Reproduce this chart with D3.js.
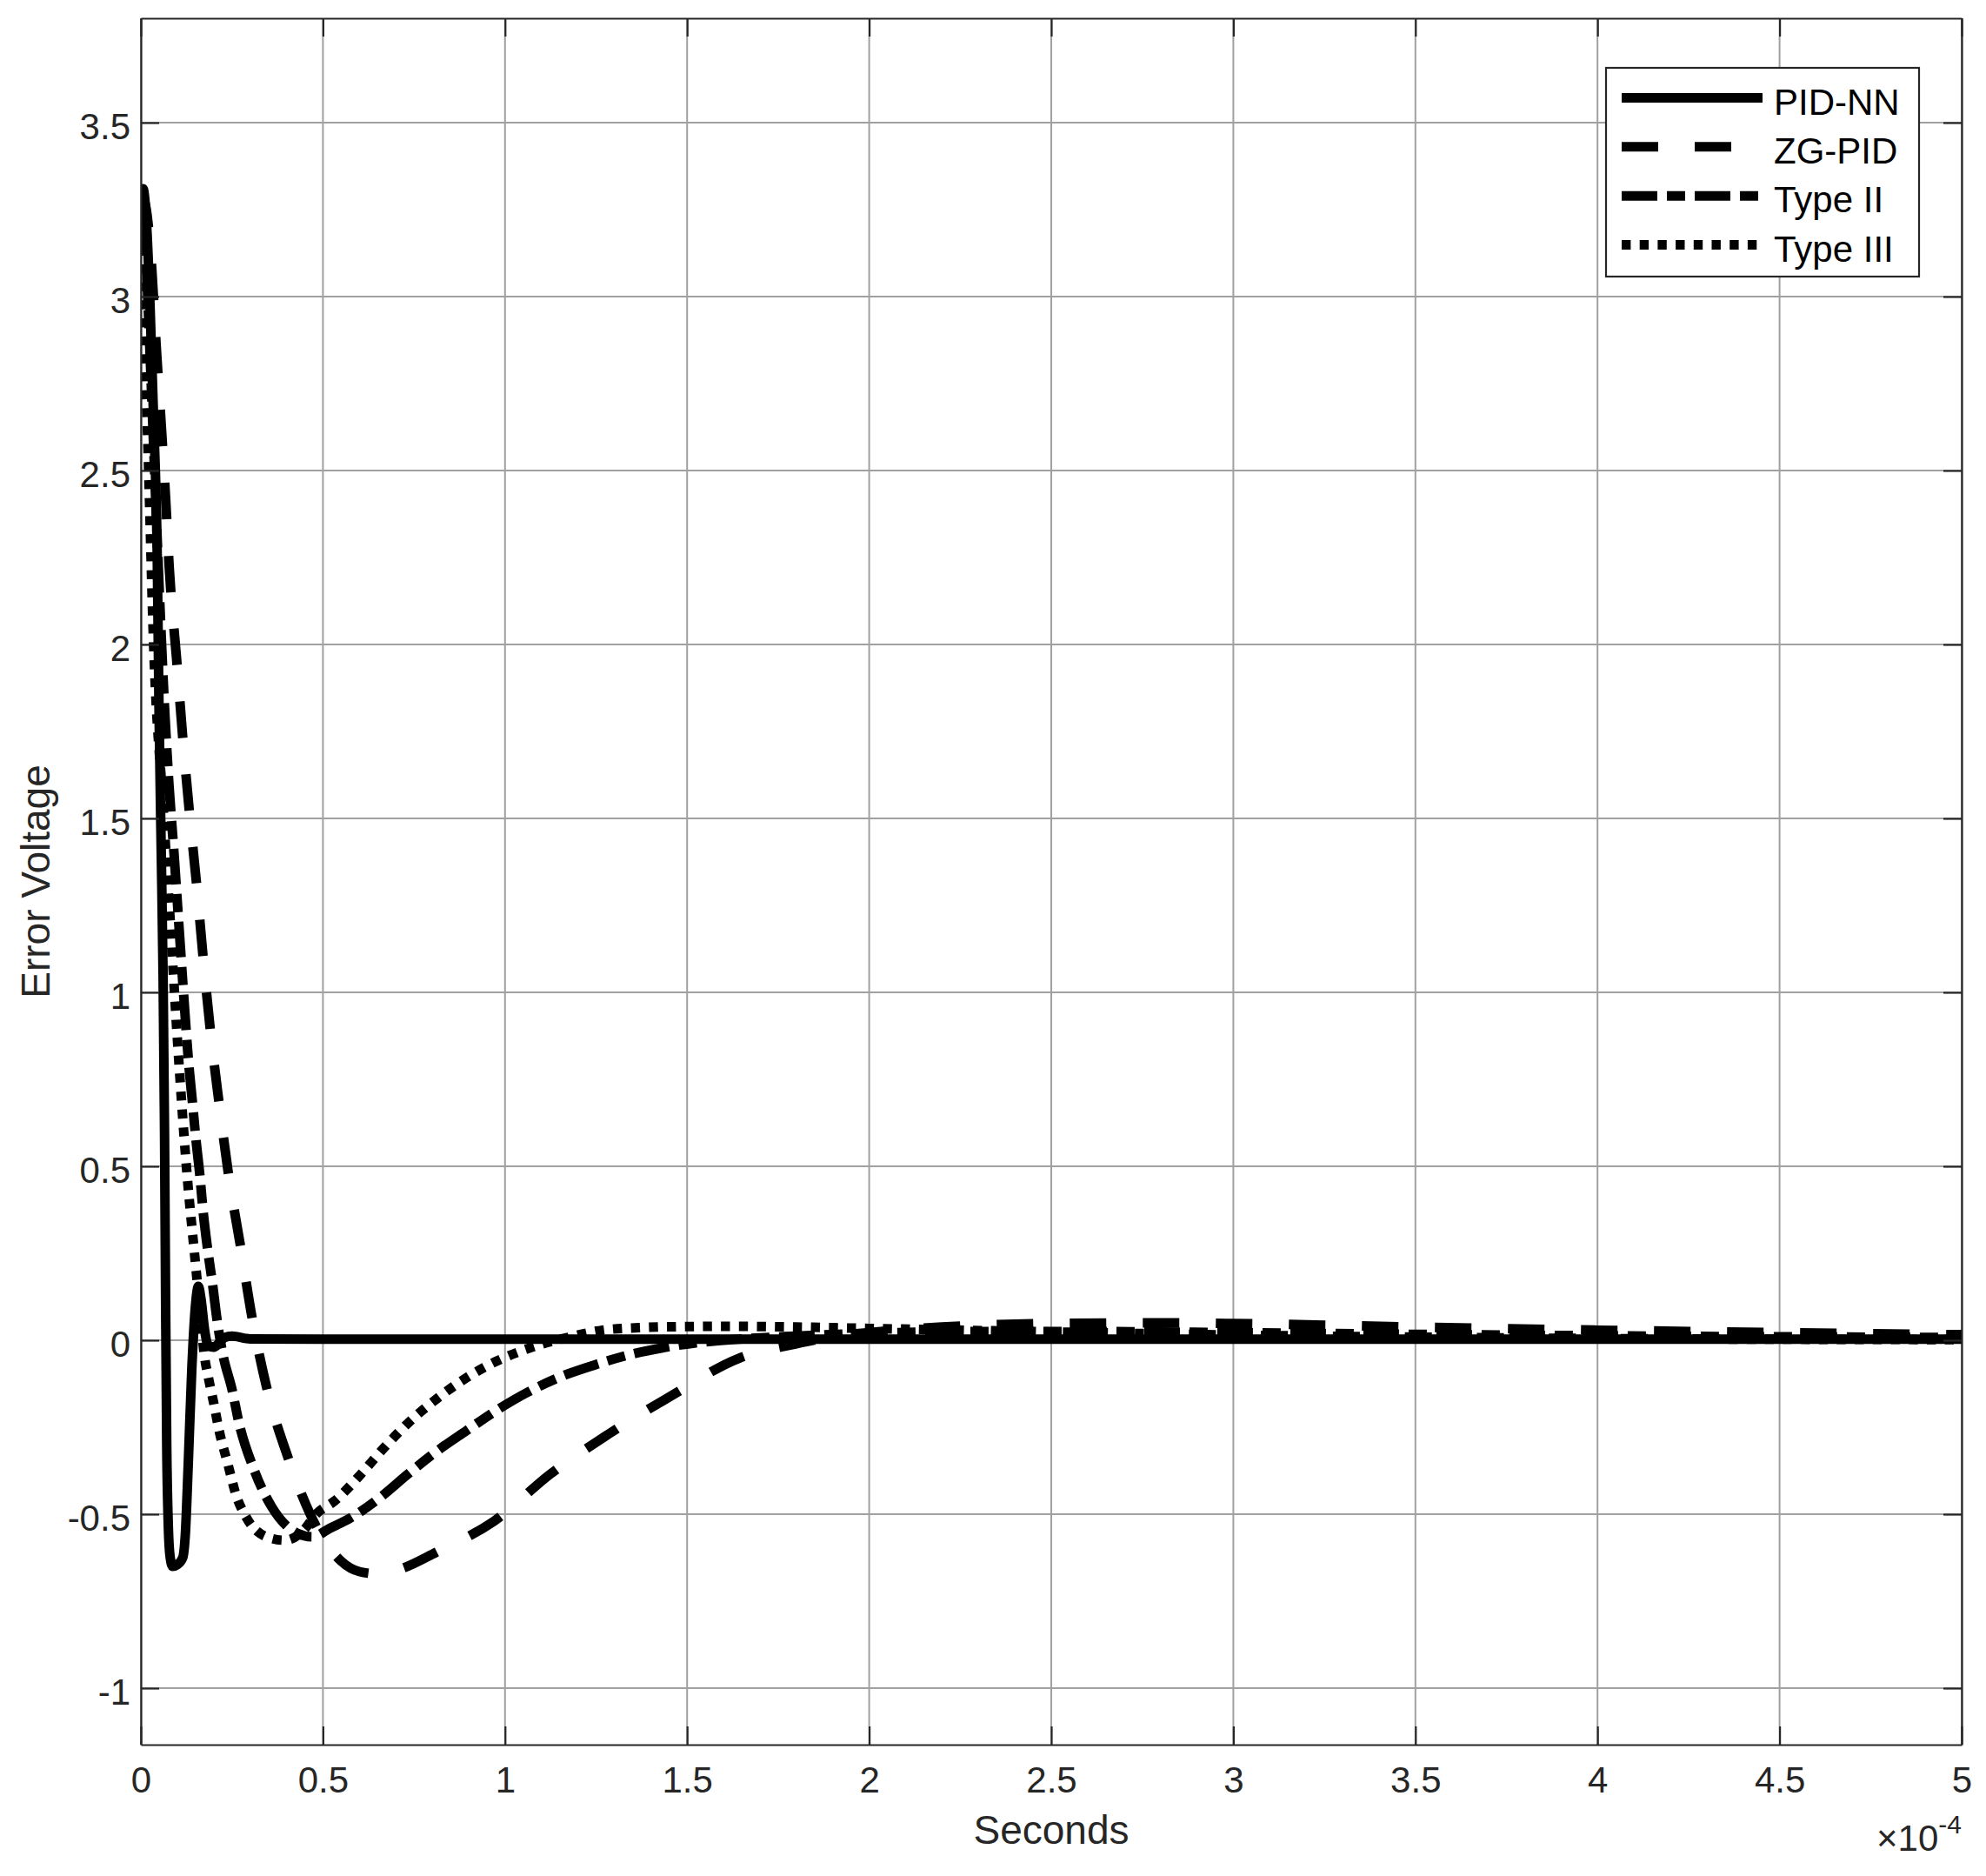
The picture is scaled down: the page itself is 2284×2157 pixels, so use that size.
<!DOCTYPE html>
<html><head><meta charset="utf-8">
<script src="https://cdn.jsdelivr.net/npm/d3@7"></script>
<style>
body{margin:0;background:#fff;}
svg{display:block;}
text{font-family:"Liberation Sans", Arial, Helvetica, sans-serif;}
</style>
</head><body>
<svg id="chart" width="2284" height="2157"></svg>
<script>
// ---- data (time in units of 1e-4 s) ----
const xTicks = [0, 0.5, 1, 1.5, 2, 2.5, 3, 3.5, 4, 4.5, 5];
const yTicks = [-1, -0.5, 0, 0.5, 1, 1.5, 2, 2.5, 3, 3.5];
const seriesNames = ["PID-NN", "ZG-PID", "Type II", "Type III"];
const xLabel = "Seconds";
const yLabel = "Error Voltage";

const pidnnT = [0, 0.006, 0.015, 0.025, 0.035, 0.045, 0.05, 0.056, 0.061, 0.065, 0.068, 0.071, 0.075, 0.08, 0.087, 0.1, 0.115, 0.122, 0.13, 0.14, 0.15, 0.158, 0.165, 0.175, 0.185, 0.2, 0.215, 0.23, 0.25, 0.3, 0.5, 1, 2, 3, 4, 5];
const pidnnV = [3.28, 3.31, 3.22, 2.98, 2.65, 2.25, 1.8, 1.4, 1.05, 0.6, 0.1, -0.3, -0.52, -0.62, -0.65, -0.645, -0.625, -0.56, -0.36, -0.08, 0.1, 0.155, 0.12, 0.03, -0.015, -0.02, -0.008, 0.008, 0.012, 0.004, 0.003, 0.003, 0.003, 0.003, 0.003, 0.003];

const zgpidT = [0, 0.015, 0.03, 0.042, 0.056, 0.068, 0.078, 0.098, 0.116, 0.134, 0.154, 0.171, 0.193, 0.215, 0.241, 0.273, 0.305, 0.346, 0.405, 0.465, 0.5, 0.55, 0.6, 0.657, 0.72, 0.81, 0.97, 1.124, 1.284, 1.456, 1.642, 1.8, 1.9, 2.0, 2.2, 2.5, 2.8, 3.0, 3.5, 4.0, 4.5, 5.0];
const zgpidV = [3.3, 3.25, 3.08, 2.86, 2.63, 2.42, 2.22, 1.96, 1.72, 1.51, 1.3, 1.1, 0.87, 0.68, 0.474, 0.274, 0.067, -0.138, -0.34, -0.5, -0.57, -0.635, -0.665, -0.672, -0.655, -0.61, -0.52, -0.385, -0.27, -0.16, -0.052, -0.01, 0.01, 0.022, 0.038, 0.048, 0.05, 0.048, 0.038, 0.029, 0.022, 0.016];

const type2T = [0, 0.01, 0.02, 0.035, 0.05, 0.065, 0.077, 0.091, 0.104, 0.117, 0.131, 0.142, 0.151, 0.162, 0.171, 0.183, 0.197, 0.209, 0.225, 0.25, 0.27, 0.31, 0.36, 0.43, 0.47, 0.52, 0.577, 0.657, 0.733, 0.814, 0.894, 0.976, 1.061, 1.15, 1.246, 1.344, 1.437, 1.52, 1.6, 1.8, 2.0, 2.3, 2.6, 3.0, 3.5, 4.0, 4.5, 5.0];
const type2V = [3.3, 3.2, 2.97, 2.57, 2.17, 1.82, 1.6, 1.4, 1.2, 1.0, 0.8, 0.68, 0.58, 0.474, 0.37, 0.264, 0.16, 0.06, -0.04, -0.14, -0.24, -0.37, -0.48, -0.555, -0.565, -0.54, -0.51, -0.452, -0.385, -0.318, -0.26, -0.202, -0.15, -0.106, -0.071, -0.041, -0.021, -0.008, 0.0, 0.012, 0.02, 0.025, 0.025, 0.022, 0.017, 0.013, 0.01, 0.008];

const type3T = [0, 0.005, 0.02, 0.035, 0.06, 0.078, 0.1, 0.125, 0.15, 0.163, 0.174, 0.186, 0.2, 0.215, 0.24, 0.26, 0.29, 0.345, 0.395, 0.448, 0.481, 0.532, 0.6, 0.667, 0.739, 0.814, 0.894, 0.981, 1.077, 1.172, 1.268, 1.367, 1.467, 1.6, 1.8, 2.0, 2.5, 3.0, 3.5, 4.0, 4.5, 5.0];
const type3V = [3.3, 3.05, 2.55, 2.0, 1.55, 1.25, 0.87, 0.5, 0.22, 0.08, -0.04, -0.11, -0.18, -0.26, -0.36, -0.44, -0.51, -0.565, -0.575, -0.545, -0.5, -0.462, -0.39, -0.31, -0.233, -0.167, -0.108, -0.058, -0.019, 0.008, 0.029, 0.036, 0.039, 0.04, 0.038, 0.034, 0.024, 0.015, 0.009, 0.005, 0.003, 0.002];

const dashes = [null, "42,42", "41,11,21,11", "10.4,10.3"];

// ---- layout ----
const L = 162, R = 2256, T = 21, B = 2006;
const svg = d3.select("#chart");
const x = d3.scaleLinear().domain([0, 5]).range([L, R]);
const y = d3.scaleLinear().domain([-1.1625, 3.8]).range([B, T]);
const axisColor = "#262626";

svg.append("defs").append("clipPath").attr("id", "clip")
  .append("rect").attr("x", L).attr("y", T).attr("width", R - L).attr("height", B - T);

// grid
const grid = svg.append("g");
grid.selectAll("line.gx").data(xTicks).join("line")
  .attr("x1", d => x(d)).attr("x2", d => x(d)).attr("y1", T).attr("y2", B)
  .attr("stroke", "#a0a0a0").attr("stroke-width", 2);
grid.selectAll("line.gy").data(yTicks).join("line").attr("class","gy")
  .attr("x1", L).attr("x2", R).attr("y1", d => y(d)).attr("y2", d => y(d))
  .attr("stroke", "#a0a0a0").attr("stroke-width", 2);

// series
const series = [
  {name: seriesNames[0], t: pidnnT, v: pidnnV, dash: dashes[0]},
  {name: seriesNames[1], t: zgpidT, v: zgpidV, dash: dashes[1]},
  {name: seriesNames[2], t: type2T, v: type2V, dash: dashes[2]},
  {name: seriesNames[3], t: type3T, v: type3V, dash: dashes[3]}
];
const line = d3.line().x(d => x(d[0])).y(d => y(d[1])).curve(d3.curveMonotoneX);
const lg = svg.append("g").attr("clip-path", "url(#clip)");
series.forEach(s => {
  const pts = s.t.map((t, i) => [t, s.v[i]]);
  lg.append("path").datum(pts).attr("d", line)
    .attr("fill", "none").attr("stroke", "#000").attr("stroke-width", 11)
    .attr("stroke-linejoin", "round").attr("stroke-linecap", "butt")
    .attr("stroke-dasharray", s.dash);
});

// axes
const fmt = d => String(d);
const styleAxis = g => {
  g.selectAll(".domain").attr("stroke", axisColor).attr("stroke-width", 2.2);
  g.selectAll(".tick line").attr("stroke", axisColor).attr("stroke-width", 2.2);
  g.selectAll("text").attr("fill", axisColor).attr("font-size", 42)
    .attr("font-family", "'Liberation Sans', Arial, sans-serif");
};
svg.append("g").attr("transform", `translate(0,${B})`)
  .call(d3.axisBottom(x).tickValues(xTicks).tickFormat(fmt).tickSize(-21).tickSizeOuter(0).tickPadding(25))
  .call(styleAxis);
svg.append("g").attr("transform", `translate(0,${T})`)
  .call(d3.axisTop(x).tickValues(xTicks).tickFormat("").tickSize(-21).tickSizeOuter(0))
  .call(styleAxis);
const yAx = svg.append("g").attr("transform", `translate(${L},0)`)
  .call(d3.axisLeft(y).tickValues(yTicks).tickFormat(fmt).tickSize(-21).tickSizeOuter(0).tickPadding(12))
  .call(styleAxis);
yAx.selectAll("text").attr("dy", "0.45em");
svg.append("g").attr("transform", `translate(${R},0)`)
  .call(d3.axisRight(y).tickValues(yTicks).tickFormat("").tickSize(-21).tickSizeOuter(0))
  .call(styleAxis);

// labels
svg.append("text").attr("x", (L + R) / 2).attr("y", 2120).attr("text-anchor", "middle")
  .attr("font-size", 46).attr("fill", axisColor).text(xLabel);
svg.append("text").attr("transform", `translate(57,${(T + B) / 2}) rotate(-90)`)
  .attr("text-anchor", "middle").attr("font-size", 46).attr("fill", axisColor).text(yLabel);
const ex = svg.append("text").attr("x", R).attr("y", 2128).attr("text-anchor", "end")
  .attr("fill", axisColor).attr("font-size", 42);
ex.append("tspan").text("\u00d710");
ex.append("tspan").attr("dy", -20).attr("font-size", 30).text("-4");

// legend
const leg = svg.append("g");
leg.append("rect").attr("x", 1847).attr("y", 78).attr("width", 360).attr("height", 240)
  .attr("fill", "#fff").attr("stroke", axisColor).attr("stroke-width", 2.2);
const rowY = d3.scalePoint().domain(seriesNames).range([112.5, 281.5]);
series.forEach(s => {
  const yy = rowY(s.name);
  leg.append("line").attr("x1", 1865).attr("x2", 2027).attr("y1", yy).attr("y2", yy)
    .attr("stroke", "#000").attr("stroke-width", 11).attr("stroke-dasharray", s.dash);
  leg.append("text").attr("x", 2040).attr("y", yy + 19).attr("font-size", 42)
    .attr("fill", "#000").text(s.name);
});
</script>
</body></html>
